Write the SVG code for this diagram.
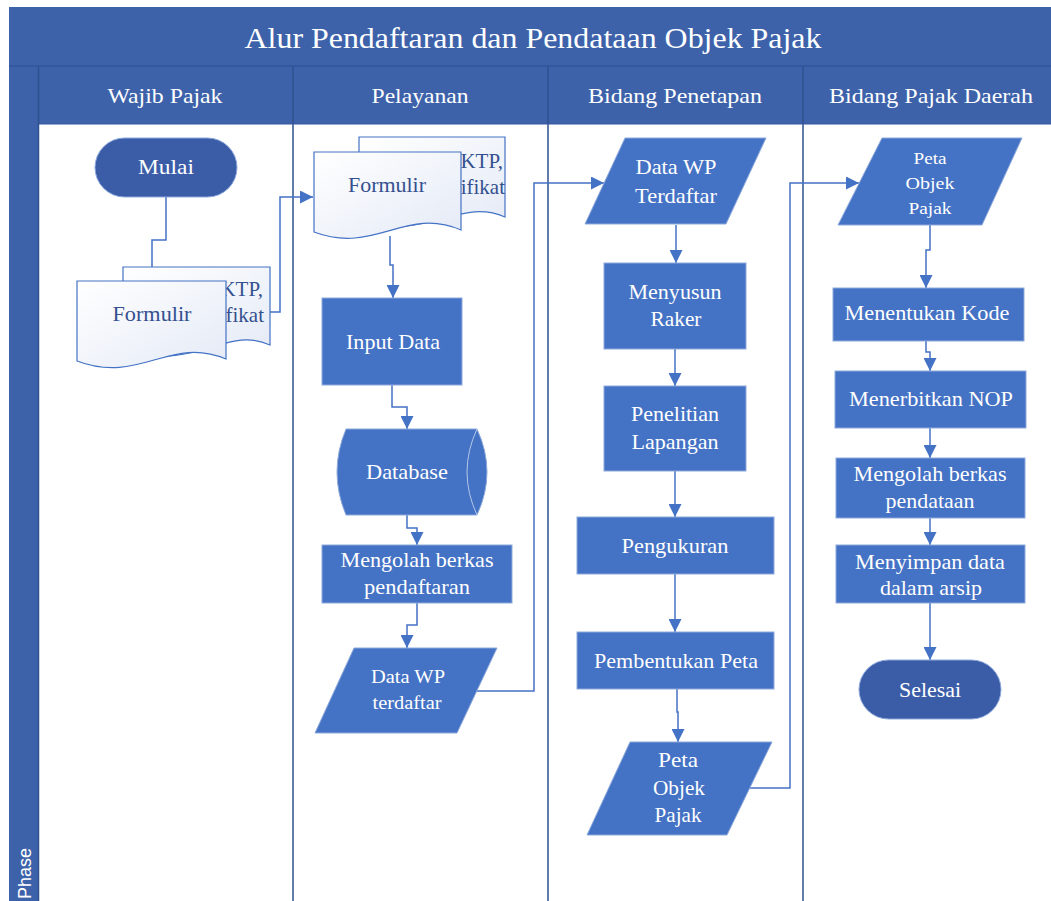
<svg xmlns="http://www.w3.org/2000/svg" width="1051" height="901" viewBox="0 0 1051 901">
<defs>
<marker id="arr" markerUnits="userSpaceOnUse" markerWidth="13" markerHeight="13" refX="13" refY="6.5" orient="auto">
<path d="M0,0 L13,6.5 L0,13 z" fill="#4472C4"/>
</marker>
<linearGradient id="docg" x1="0" y1="0" x2="1" y2="1">
<stop offset="0" stop-color="#FFFFFF"/>
<stop offset="1" stop-color="#E4EAF6"/>
</linearGradient>
<style>
.hdr{fill:#3D62AA}
.t{font-family:"Liberation Serif","Times New Roman",serif;fill:#FFFFFF;text-anchor:middle;font-size:21px}
.proc{fill:#4472C4;stroke:#8EA9DB;stroke-width:1}
.pill{fill:#3B5DA8;stroke:#8EA9DB;stroke-width:1}
.doc{fill:url(#docg);stroke:#4472C4;stroke-width:1.2}
.dt{font-family:"Liberation Serif","Times New Roman",serif;fill:#34508F;font-size:21px}
.conn{fill:none;stroke:#4472C4;stroke-width:1.5;marker-end:url(#arr)}
.lane{stroke:#2F528F;stroke-width:1.5}
</style>
</defs>

<g id="frame">
<rect x="9" y="7" width="1050" height="900" class="hdr"/>
<rect x="39" y="124" width="1020" height="790" fill="#FFFFFF"/>
<line x1="9" y1="66" x2="1051" y2="66" stroke="#34589E" stroke-width="2"/>
<line x1="38.5" y1="66" x2="38.5" y2="901" class="lane"/>
<line x1="293" y1="66" x2="293" y2="901" class="lane"/>
<line x1="548" y1="66" x2="548" y2="901" class="lane"/>
<line x1="803" y1="66" x2="803" y2="901" class="lane"/>
<line x1="39" y1="124" x2="1051" y2="124" stroke="#34589E" stroke-width="1"/>
<text x="533" y="48" class="t" style="font-size:29px" textLength="577" lengthAdjust="spacingAndGlyphs">Alur Pendaftaran dan Pendataan Objek Pajak</text>
<text x="165" y="103" class="t" textLength="115" lengthAdjust="spacingAndGlyphs">Wajib Pajak</text>
<text x="420" y="103" class="t" textLength="97" lengthAdjust="spacingAndGlyphs">Pelayanan</text>
<text x="675" y="103" class="t" textLength="174" lengthAdjust="spacingAndGlyphs">Bidang Penetapan</text>
<text x="931" y="103" class="t" textLength="204" lengthAdjust="spacingAndGlyphs">Bidang Pajak Daerah</text>
<text transform="translate(31,899) rotate(-90)" font-family="'Liberation Sans',Arial,sans-serif" font-size="18" fill="#FFFFFF">Phase</text>
</g>

<g id="connectors">
<path class="conn" d="M166,197 V240 H152 V281"/>
<path class="conn" d="M270,312 H280 V197 H313"/>
<path class="conn" d="M390,236 V265 H393 V298"/>
<path class="conn" d="M392,385 V407 H407 V429"/>
<path class="conn" d="M407,515 V528 H417 V545"/>
<path class="conn" d="M417,603 V625 H407 V648"/>
<path class="conn" d="M477,691 H534 V183 H604"/>
<path class="conn" d="M676,225 V263"/>
<path class="conn" d="M675,349 V386"/>
<path class="conn" d="M675,471 V517"/>
<path class="conn" d="M675,574 V632"/>
<path class="conn" d="M677,689 V712 H678 V742"/>
<path class="conn" d="M750,788 H790 V183 H859"/>
<path class="conn" d="M930,225 V250 H926 V288"/>
<path class="conn" d="M926,341 V352 H930 V371"/>
<path class="conn" d="M930,428 V458"/>
<path class="conn" d="M930,518 V545"/>
<path class="conn" d="M930,603 V660"/>
</g>

<g id="mulai">
<rect x="95" y="138" width="142" height="59" rx="29.5" class="pill"/>
<text x="166" y="174" class="t" textLength="56" lengthAdjust="spacingAndGlyphs">Mulai</text>
</g>

<g id="dok-wajib">
<path class="doc" d="M123,267 H270 V345 C225,325 200,372 123,350 Z"/>
<text x="263" y="296" class="dt" text-anchor="end">KTP,</text>
<text x="264" y="322" class="dt" text-anchor="end">Sertifikat</text>
<path class="doc" d="M77,281 H226 V359 C170,335 140,385 77,361 Z"/>
<text x="152" y="321" class="dt" text-anchor="middle" textLength="79" lengthAdjust="spacingAndGlyphs">Formulir</text>
</g>

<g id="dok-pelayanan">
<path class="doc" d="M359,137 H505 V217 C460,197 430,240 359,222 Z"/>
<text x="503" y="168" class="dt" text-anchor="end">KTP,</text>
<text x="505" y="194" class="dt" text-anchor="end">Sertifikat</text>
<path class="doc" d="M314,152 H461 V230 C405,206 375,255 314,232 Z"/>
<text x="387" y="192" class="dt" text-anchor="middle" textLength="78" lengthAdjust="spacingAndGlyphs">Formulir</text>
</g>

<g id="input-data">
<rect x="322" y="298" width="140" height="87" class="proc"/>
<text x="393" y="349" class="t" textLength="94" lengthAdjust="spacingAndGlyphs">Input Data</text>
</g>

<g id="database">
<path d="M346,429 H477 Q497,472 477,515 H346 Q328,472 346,429 Z" class="proc"/>
<path d="M477,429 Q457,472 477,515" fill="none" stroke="#B4C7E7" stroke-width="1"/>
<text x="407" y="479" class="t" textLength="82" lengthAdjust="spacingAndGlyphs">Database</text>
</g>

<g id="mengolah-pendaftaran">
<rect x="322" y="545" width="190" height="58" class="proc"/>
<text x="417" y="567" class="t" textLength="153" lengthAdjust="spacingAndGlyphs">Mengolah berkas</text>
<text x="417" y="594" class="t" textLength="106" lengthAdjust="spacingAndGlyphs">pendaftaran</text>
</g>

<g id="data-wp-terdaftar-1">
<path d="M354,648 H497 L457,733 H315 Z" class="proc"/>
<text x="408" y="683" class="t" style="font-size:18px" textLength="74" lengthAdjust="spacingAndGlyphs">Data WP</text>
<text x="407" y="709" class="t" style="font-size:18px" textLength="69" lengthAdjust="spacingAndGlyphs">terdaftar</text>
</g>

<g id="data-wp-terdaftar-2">
<path d="M625,138 H766 L726,224 H585 Z" class="proc"/>
<text x="676" y="174" class="t" textLength="81" lengthAdjust="spacingAndGlyphs">Data WP</text>
<text x="676" y="203" class="t" textLength="82" lengthAdjust="spacingAndGlyphs">Terdaftar</text>
</g>

<g id="menyusun-raker">
<rect x="604" y="263" width="142" height="86" class="proc"/>
<text x="675" y="299" class="t" textLength="93" lengthAdjust="spacingAndGlyphs">Menyusun</text>
<text x="676" y="326" class="t" textLength="51" lengthAdjust="spacingAndGlyphs">Raker</text>
</g>

<g id="penelitian-lapangan">
<rect x="604" y="386" width="142" height="85" class="proc"/>
<text x="675" y="421" class="t" textLength="88" lengthAdjust="spacingAndGlyphs">Penelitian</text>
<text x="675" y="449" class="t" textLength="87" lengthAdjust="spacingAndGlyphs">Lapangan</text>
</g>

<g id="pengukuran">
<rect x="577" y="517" width="197" height="57" class="proc"/>
<text x="675" y="553" class="t" textLength="107" lengthAdjust="spacingAndGlyphs">Pengukuran</text>
</g>

<g id="pembentukan-peta">
<rect x="577" y="632" width="197" height="57" class="proc"/>
<text x="676" y="668" class="t" textLength="164" lengthAdjust="spacingAndGlyphs">Pembentukan Peta</text>
</g>

<g id="peta-objek-pajak-1">
<path d="M630,742 H772 L727,835 H587 Z" class="proc"/>
<text x="678" y="767" class="t" textLength="40" lengthAdjust="spacingAndGlyphs">Peta</text>
<text x="679" y="795" class="t" textLength="52" lengthAdjust="spacingAndGlyphs">Objek</text>
<text x="678" y="822" class="t" textLength="47" lengthAdjust="spacingAndGlyphs">Pajak</text>
</g>

<g id="peta-objek-pajak-2">
<path d="M882,138 H1022 L982,225 H838 Z" class="proc"/>
<text x="930" y="164" class="t" style="font-size:17px" textLength="33" lengthAdjust="spacingAndGlyphs">Peta</text>
<text x="930" y="189" class="t" style="font-size:17px" textLength="49" lengthAdjust="spacingAndGlyphs">Objek</text>
<text x="930" y="214" class="t" style="font-size:17px" textLength="43" lengthAdjust="spacingAndGlyphs">Pajak</text>
</g>

<g id="menentukan-kode">
<rect x="833" y="288" width="191" height="53" class="proc"/>
<text x="927" y="320" class="t" textLength="165" lengthAdjust="spacingAndGlyphs">Menentukan Kode</text>
</g>

<g id="menerbitkan-nop">
<rect x="835" y="371" width="191" height="57" class="proc"/>
<text x="931" y="406" class="t" textLength="164" lengthAdjust="spacingAndGlyphs">Menerbitkan NOP</text>
</g>

<g id="mengolah-pendataan">
<rect x="836" y="458" width="189" height="60" class="proc"/>
<text x="930" y="481" class="t" textLength="153" lengthAdjust="spacingAndGlyphs">Mengolah berkas</text>
<text x="930" y="508" class="t" textLength="89" lengthAdjust="spacingAndGlyphs">pendataan</text>
</g>

<g id="menyimpan-data">
<rect x="836" y="545" width="189" height="58" class="proc"/>
<text x="930" y="569" class="t" textLength="150" lengthAdjust="spacingAndGlyphs">Menyimpan data</text>
<text x="931" y="595" class="t" textLength="102" lengthAdjust="spacingAndGlyphs">dalam arsip</text>
</g>

<g id="selesai">
<rect x="859" y="660" width="142" height="59" rx="29.5" class="pill"/>
<text x="930" y="697" class="t" textLength="62" lengthAdjust="spacingAndGlyphs">Selesai</text>
</g>
</svg>
